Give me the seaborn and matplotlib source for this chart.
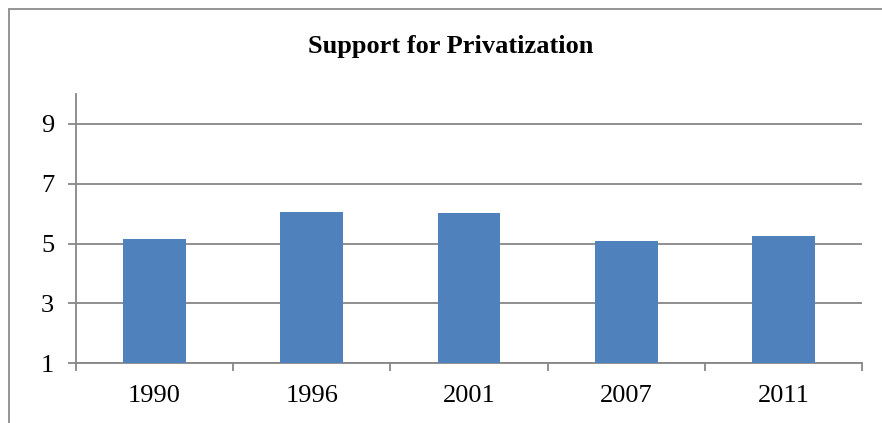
import matplotlib
matplotlib.use("Agg")
import matplotlib.pyplot as plt
import seaborn as sns
import pandas as pd
from matplotlib.ticker import FixedLocator
from matplotlib.lines import Line2D

years = ["1990", "1996", "2001", "2007", "2011"]
support = [5.17, 6.05, 6.02, 5.10, 5.24]
y_ticks = [1, 3, 5, 7, 9]
title = "Support for Privatization"

sns.set_theme(style="white")
plt.rcParams["font.family"] = ["Liberation Serif", "DejaVu Serif"]

df = pd.DataFrame({"year": years, "support": support})

fig = plt.figure(figsize=(8.82, 4.23), dpi=100)
ax = fig.add_axes([76 / 882, 1 - 363.3 / 423, (862 - 76) / 882, (363.3 - 94) / 423])

grid_c = "#878787"
sns.barplot(data=df, x="year", y="support", color="#4F81BD", width=0.4,
            saturation=1, ax=ax, zorder=3)
# bars rise from the axis floor at 1
for p in ax.patches:
    p.set_y(1)
    p.set_height(p.get_height() - 1)
    p.set_edgecolor("none")

ax.set_ylim(1, 10)
ax.set_xlim(-0.5, len(years) - 0.5)
ax.set_yticks(y_ticks)
ax.set_yticklabels([str(t) for t in y_ticks])
ax.yaxis.grid(True, color=grid_c, linewidth=1.3, zorder=0)
ax.set_axisbelow(True)
ax.set_xlabel("")
ax.set_ylabel("")

for s in ["top", "right"]:
    ax.spines[s].set_visible(False)
for s in ["left", "bottom"]:
    ax.spines[s].set_color(grid_c)
    ax.spines[s].set_linewidth(1.3)

ax.tick_params(axis="y", which="major", length=5.8, width=1.3, color=grid_c,
               direction="out", left=True, pad=10, labelsize=19, labelcolor="black")
ax.tick_params(axis="x", which="major", length=0, pad=15.5, labelsize=19,
               labelcolor="black")
ax.xaxis.set_minor_locator(FixedLocator([i - 0.5 for i in range(len(years) + 1)]))
ax.tick_params(axis="x", which="minor", length=5.6, width=1.3, color=grid_c,
               direction="out", bottom=True)

fig.text(451 / 882, 1 - 47 / 423, title, ha="center", va="center",
         fontsize=19, fontweight="bold", color="black")

# outer chart-area frame (left and top edges visible)
fig.add_artist(Line2D([9 / 882, 9 / 882], [0, 1 - 9.5 / 423], color="#8c8c8c",
                      linewidth=1.3, transform=fig.transFigure))
fig.add_artist(Line2D([9 / 882, 1], [1 - 9.5 / 423, 1 - 9.5 / 423], color="#8c8c8c",
                      linewidth=1.3, transform=fig.transFigure))

fig.savefig("out.png", dpi=100)
